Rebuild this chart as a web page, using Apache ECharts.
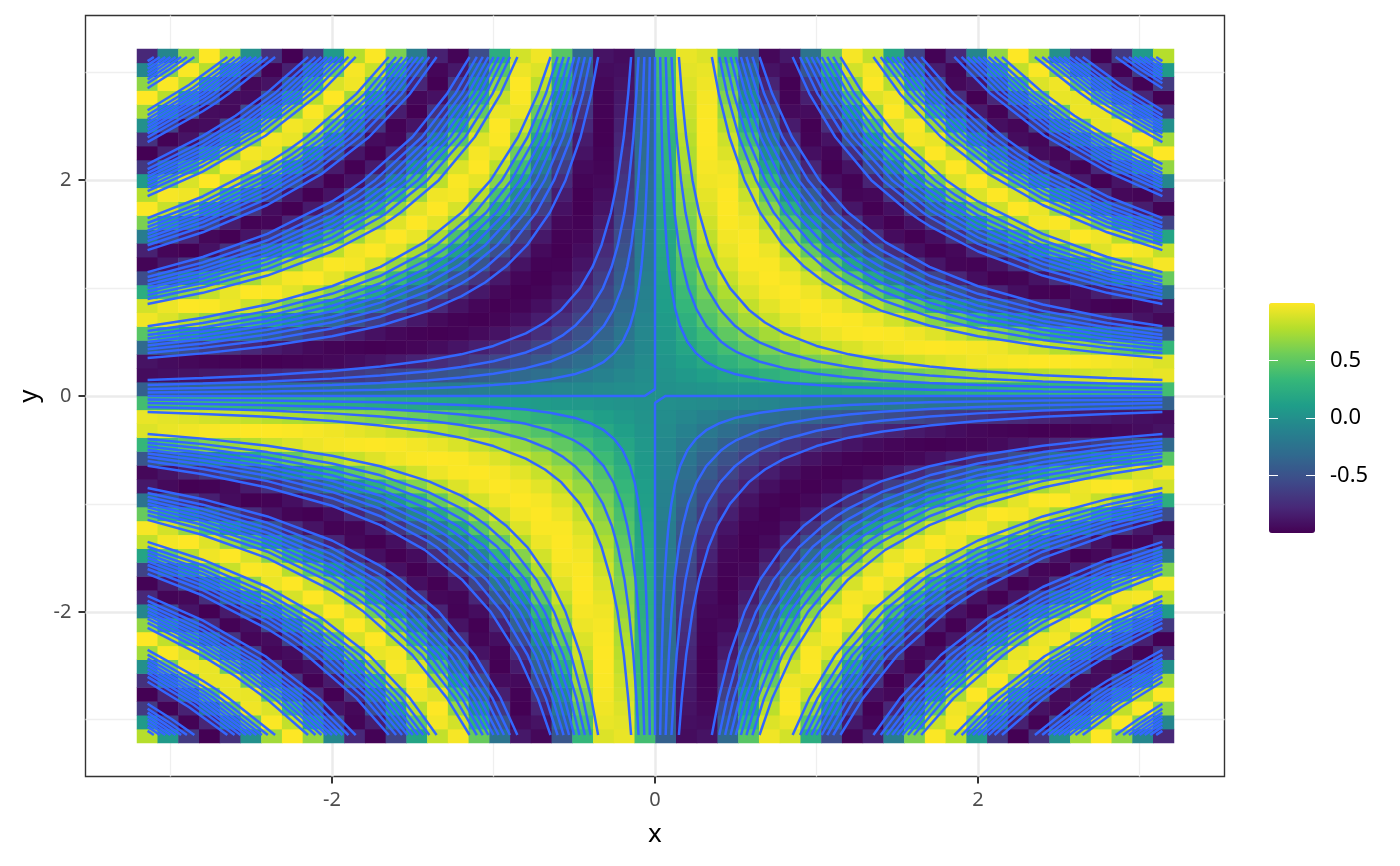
<!DOCTYPE html>
<html><head><meta charset="utf-8">
<style>html,body{margin:0;padding:0;background:#fff}#c{width:1400px;height:866px}</style>
<script src="https://cdn.jsdelivr.net/npm/echarts@6/dist/echarts.min.js"></script>
</head><body><div id="c"></div>
<script>
// Cell centres of the raster (positive half; the picture mirrors them about 0)
const cellCentres=[.064,.192,.321,.449,.577,.705,.833,.962,1.09,1.218,1.346,1.475,1.603,1.731,1.859,1.988,2.116,2.244,2.372,2.501,2.629,2.757,2.885,3.013,3.142];
// Estimated fill values, upper-right quadrant: one row per y cell, one column per x cell.
// Hand-worked from the sin(2xy)-like pattern the picture shows and checked against visible cells,
// not measured cell by cell. The other three quadrants are mirrored from this table below.
const quadrantZ=[
[.01,.02,.04,.06,.07,.09,.11,.12,.14,.16,.17,.19,.20,.22,.24,.25,.27,.29,.30,.32,.33,.35,.36,.38,.39],
[.02,.07,.12,.17,.22,.27,.32,.36,.41,.45,.50,.54,.58,.62,.66,.69,.73,.76,.79,.82,.85,.87,.90,.92,.94],
[.04,.12,.20,.28,.36,.44,.51,.58,.64,.70,.76,.81,.86,.90,.93,.96,.98,.99,1,1,.99,.98,.96,.94,.90],
[.06,.17,.28,.39,.50,.59,.68,.76,.83,.89,.94,.97,.99,1,.99,.98,.95,.90,.85,.78,.70,.62,.52,.42,.32],
[.07,.22,.36,.50,.62,.73,.82,.90,.95,.99,1,.99,.96,.91,.84,.75,.64,.52,.39,.25,.11,-.04,-.19,-.33,-.47],
[.09,.27,.44,.59,.73,.84,.92,.98,1,.99,.95,.87,.77,.64,.50,.33,.16,-.02,-.20,-.38,-.53,-.68,-.80,-.90,-.96],
[.11,.32,.51,.68,.82,.92,.98,1,.97,.90,.78,.63,.45,.25,.04,-.17,-.38,-.56,-.73,-.85,-.95,-.99,-1,-.95,-.87],
[.12,.36,.58,.76,.90,.98,1,.96,.87,.72,.52,.30,.06,-.19,-.42,-.63,-.80,-.92,-.99,-1,-.94,-.83,-.67,-.47,-.24],
[.14,.41,.64,.83,.95,1,.97,.87,.69,.47,.20,-.07,-.34,-.59,-.79,-.93,-1,-.98,-.90,-.74,-.52,-.27,.01,.28,.53],
[.16,.45,.70,.89,.99,.99,.90,.72,.47,.17,-.14,-.43,-.69,-.88,-.98,-.99,-.90,-.73,-.48,-.19,.12,.42,.68,.87,.98],
[.17,.50,.76,.94,1,.95,.78,.52,.20,-.14,-.47,-.74,-.92,-1,-.96,-.80,-.55,-.24,.10,.43,.71,.91,1,.97,.82],
[.19,.54,.81,.97,.99,.87,.63,.30,-.07,-.43,-.74,-.94,-1,-.92,-.72,-.41,-.04,.33,.65,.89,1,.96,.79,.51,.16],
[.20,.58,.86,.99,.96,.77,.45,.06,-.34,-.69,-.92,-1,-.91,-.67,-.32,.09,.48,.79,.97,.99,.84,.55,.18,-.23,-.60],
[.22,.62,.90,1,.91,.64,.25,-.19,-.59,-.88,-1,-.92,-.67,-.29,.15,.56,.86,1,.94,.69,.32,-.12,-.53,-.84,-.99],
[.24,.66,.93,1,.84,.50,.04,-.42,-.79,-.98,-.96,-.72,-.32,.15,.59,.90,1,.88,.57,.13,-.34,-.74,-.96,-.98,-.78],
[.25,.69,.96,.98,.75,.33,-.17,-.63,-.93,-.99,-.80,-.41,.09,.56,.90,1,.85,.48,0,-.49,-.85,-1,-.89,-.55,-.08],
[.27,.73,.98,.95,.64,.16,-.38,-.80,-1,-.90,-.55,-.04,.48,.86,1,.85,.46,-.07,-.57,-.92,-.99,-.78,-.35,.18,.67],
[.29,.76,.99,.90,.52,-.02,-.56,-.92,-.98,-.73,-.24,.33,.79,1,.88,.48,-.07,-.60,-.94,-.97,-.70,-.19,.37,.82,1],
[.30,.79,1,.85,.39,-.20,-.73,-.99,-.90,-.48,.10,.65,.97,.94,.57,0,-.57,-.94,-.97,-.65,-.09,.49,.90,.99,.72],
[.32,.82,1,.78,.25,-.38,-.85,-1,-.74,-.19,.43,.89,.99,.69,.13,-.49,-.92,-.97,-.65,-.06,.55,.94,.96,.60,0],
[.33,.85,.99,.70,.11,-.53,-.95,-.94,-.52,.12,.71,1,.84,.32,-.34,-.85,-.99,-.70,-.09,.55,.95,.94,.51,-.13,-.72],
[.35,.87,.98,.62,-.04,-.68,-.99,-.83,-.27,.42,.91,.96,.55,-.12,-.74,-1,-.78,-.19,.49,.94,.94,.48,-.20,-.79,-1],
[.36,.90,.96,.52,-.19,-.80,-1,-.67,.01,.68,1,.79,.18,-.53,-.96,-.89,-.35,.37,.90,.96,.51,-.20,-.81,-.99,-.66],
[.38,.92,.94,.42,-.33,-.90,-.95,-.47,.28,.87,.97,.51,-.23,-.84,-.98,-.55,.18,.82,.99,.60,-.13,-.79,-.99,-.64,.08],
[.39,.94,.90,.32,-.47,-.96,-.87,-.24,.53,.98,.82,.16,-.60,-.99,-.78,-.08,.67,1,.72,0,-.72,-1,-.66,.08,.78]
];
// Contour traces, upper-right quadrant, from the top edge to the diagonal (same basis as quadrantZ; smoothed,
// so the fine jaggedness of the reference lines is not reproduced).
// Each row: x at the y values of contourYs in turn; last entry = the point where the curve meets y = x.
const contourYs=[3.1416,2.8,2.4,2,1.7,1.4,1.2,1,.8,.65,.5,.4];
const contourXs=[
[.032,.036,.042,.05,.059,.072,.084,.101,.126,.155,.201,.252,.317],
[.066,.074,.086,.103,.121,.147,.172,.206,.258,.317,.412,.454],
[.102,.115,.134,.161,.189,.23,.268,.322,.403,.495,.567],
[.148,.166,.193,.232,.273,.331,.386,.464,.58,.681],
[.352,.395,.461,.554,.651,.791,.923,1.052],
[.398,.446,.52,.625,.735,.892,1.041,1.118],
[.434,.487,.569,.683,.803,.975,1.138,1.168],
[.468,.525,.613,.735,.865,1.05,1.213],
[.5,.561,.655,.785,.924,1.122,1.253],
[.532,.597,.696,.836,.983,1.194,1.293],
[.566,.635,.74,.889,1.045,1.269,1.333],
[.603,.676,.789,.947,1.114,1.352,1.376],
[.647,.726,.848,1.017,1.196,1.426],
[.852,.956,1.116,1.339,1.575,1.636],
[.898,1.007,1.175,1.41,1.659,1.679],
[.935,1.048,1.223,1.468,1.713],
[.968,1.086,1.267,1.521,1.744],
[1,1.122,1.309,1.571,1.772],
[1.032,1.158,1.351,1.621,1.801],
[1.066,1.196,1.395,1.674,1.83],
[1.103,1.237,1.443,1.732,1.861],
[1.148,1.288,1.502,1.803,1.899],
[1.352,1.517,1.77,2.061],
[1.397,1.568,1.829,2.095],
[1.435,1.61,1.878,2.123],
[1.468,1.647,1.922,2.148],
[1.5,1.683,1.963,2.171],
[1.532,1.719,2.005,2.194],
[1.566,1.757,2.05,2.218],
[1.603,1.798,2.098,2.244],
[1.648,1.849,2.157,2.275],
[1.853,2.079,2.412],
[1.898,2.129,2.442],
[1.934,2.17,2.465],
[1.968,2.208,2.486],
[2,2.244,2.507],
[2.032,2.28,2.527],
[2.065,2.318,2.547],
[2.102,2.359,2.57],
[2.148,2.41,2.597],
[2.352,2.639,2.718],
[2.397,2.69,2.744],
[2.434,2.731,2.766],
[2.468,2.769,2.784],
[2.5,2.802],[2.532,2.82],[2.566,2.839],[2.603,2.859],[2.648,2.884],
[2.852,2.993],[2.898,3.017],[2.934,3.036],[2.968,3.054],[3,3.07],[3.032,3.086],[3.066,3.103],[3.103,3.122]
];
// The two zero contours, which run along the axes and pinch at the origin
const zeroUpper=[[0,3.1416],[0,.064],[-.064,0],[-3.1416,0]];
const zeroLower=[[3.1416,0],[.064,0],[0,-.064],[0,-3.1416]];
const majorBreaks=[-2,0,2];
const minorBreaks=[-3,-1,1,3];
const legendBreaks=[-0.5,0,0.5];
const viridis=['#440154','#482878','#3E4A89','#31688E','#26828E','#1F9E89','#35B779','#6DCD59','#B4DE2C','#FDE725'];

const font='"Noto Sans"';
const axisRange=3.526;
const xCats=[...cellCentres].reverse().map(v=>-v).concat(cellCentres).map(String);
const cells=[];
for(let yi=0;yi<50;yi++)for(let xi=0;xi<50;xi++){
  const ax=xi>=25?xi-25:24-xi, ay=yi>=25?yi-25:24-yi;
  const s=(xi>=25?1:-1)*(yi>=25?1:-1);
  cells.push([xi,yi,quadrantZ[ay][ax]*s]);
}
const lineStyle={color:'#3366FF',width:2.5};
const contour=(data)=>({type:'line',xAxisIndex:0,yAxisIndex:0,data,showSymbol:false,symbol:'none',silent:true,animation:false,z:4,lineStyle,emphasis:{disabled:true}});
const gridMark=(values,color,width)=>({type:'line',xAxisIndex:0,yAxisIndex:0,data:[],silent:true,z:1,animation:false,markLine:{z:1,silent:true,symbol:['none','none'],label:{show:false},animation:false,lineStyle:{color,width,type:'solid'},data:values.flatMap(v=>[{xAxis:v},{yAxis:v}])}});
const series=[
 gridMark(minorBreaks,'#efefef',1.3),
 gridMark(majorBreaks,'#ebebeb',2.5),
 {type:'heatmap',xAxisIndex:1,yAxisIndex:1,data:cells,silent:true,progressive:0,animation:false,z:2,emphasis:{disabled:true}}
];
for(const [sx,sy] of [[1,1],[-1,1],[-1,-1],[1,-1]]){
  for(const xs of contourXs){
    const half=xs.map((x,i)=>i<xs.length-1?[x,contourYs[i]]:[x,x]);
    const full=half.concat(half.slice(0,-1).reverse().map(p=>[p[1],p[0]]));
    series.push(contour(full.map(p=>[p[0]*sx,p[1]*sy])));
  }
}
series.push(contour(zeroUpper),contour(zeroLower));

const tickStyle={show:true,length:7,lineStyle:{color:'#333',width:2}};
const lbl={color:'#4d4d4d',fontFamily:font,fontSize:20};
const chart=echarts.init(document.getElementById('c'),null,{renderer:'canvas'});
chart.setOption({
 animation:false,backgroundColor:'#fff',
 grid:[
  {left:85.5,top:15.5,width:1139,height:761,show:true,borderColor:'#333',borderWidth:1.4,backgroundColor:'#fff',containLabel:false},
  {left:137,top:49,width:1037,height:694,show:false},
  {left:1269,top:303,width:46,height:230,show:false}
 ],
 xAxis:[
  {type:'value',gridIndex:0,min:-axisRange,max:axisRange,name:'x',nameLocation:'middle',nameGap:45,nameTextStyle:{fontFamily:font,fontSize:26,color:'#000'},
   axisLine:{show:false,onZero:false},splitLine:{show:false},axisTick:{...tickStyle,customValues:majorBreaks},
   axisLabel:{...lbl,margin:14,customValues:majorBreaks,formatter:v=>String(v)}},
  {type:'category',gridIndex:1,data:xCats,show:false},
  {type:'value',gridIndex:2,min:0,max:1,show:false}
 ],
 yAxis:[
  {type:'value',gridIndex:0,min:-axisRange,max:axisRange,name:'y',nameLocation:'middle',nameGap:43,nameTextStyle:{fontFamily:font,fontSize:26,color:'#000'},
   axisLine:{show:false,onZero:false},splitLine:{show:false},axisTick:{...tickStyle,customValues:majorBreaks},
   axisLabel:{...lbl,margin:14,padding:[3,0,0,0],customValues:majorBreaks,formatter:v=>String(v)}},
  {type:'category',gridIndex:1,data:xCats,show:false},
  {type:'value',gridIndex:2,min:-1,max:1,position:'right',z:20,axisLine:{show:false,onZero:false},splitLine:{show:false},
   axisTick:{show:true,inside:true,length:9,customValues:legendBreaks,lineStyle:{color:'#fff',width:1}},
   axisLabel:{color:'#000',fontFamily:font,fontSize:22,margin:15,padding:[8,0,0,0],customValues:legendBreaks,formatter:v=>v.toFixed(1)}},
  {type:'value',gridIndex:2,min:-1,max:1,position:'left',z:20,axisLine:{show:false,onZero:false},splitLine:{show:false},
   axisTick:{show:true,inside:true,length:9,customValues:legendBreaks,lineStyle:{color:'#fff',width:1}},
   axisLabel:{show:false}}
 ],
 visualMap:{type:'continuous',seriesIndex:2,dimension:2,min:-1,max:1,left:1269,top:303,itemWidth:46,itemHeight:230,padding:0,calculable:false,hoverLink:false,inRange:{color:viridis},z:3},
 series
});
</script></body></html>
